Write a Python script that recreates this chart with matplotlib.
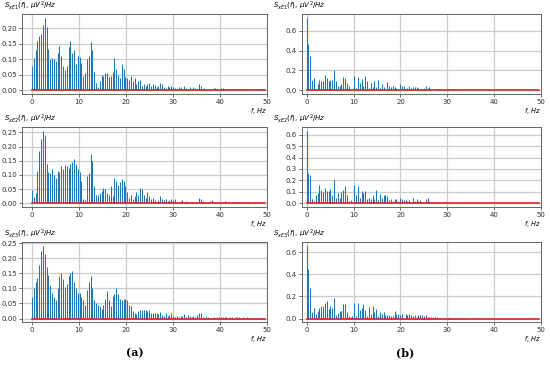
import numpy as np
import matplotlib
matplotlib.use("Agg")
import matplotlib.pyplot as plt

# frequency grid (fs = 100 Hz, N = 256)
freqs = np.arange(128) * 100 / 256

# (a) column
a1 = [0.080, 0.105, 0.130, 0.160, 0.175, 0.182, 0.210, 0.235, 0.205, 0.135, 0.100, 0.103, 0.100,
      0.095, 0.120, 0.143, 0.110, 0.080, 0.065, 0.080, 0.140, 0.158, 0.120, 0.130, 0.085, 0.110,
      0.108, 0.090, 0.045, 0.055, 0.100, 0.112, 0.155, 0.130, 0.060, 0.025, 0.010, 0.030, 0.050,
      0.048, 0.055, 0.057, 0.042, 0.045, 0.060, 0.103, 0.070, 0.050, 0.040, 0.085, 0.070, 0.042,
      0.040, 0.035, 0.045, 0.030, 0.040, 0.020, 0.030, 0.032, 0.015, 0.020, 0.015, 0.020, 0.025,
      0.015, 0.020, 0.018, 0.012, 0.015, 0.025, 0.020, 0.012, 0.008, 0.015, 0.010, 0.015, 0.012,
      0.008, 0.004, 0.012, 0.010, 0.005, 0.015, 0.008, 0.004, 0.010, 0.006, 0.012, 0.008, 0.004,
      0.020, 0.015, 0.005, 0.008, 0.005, 0.003, 0.006, 0.004, 0.008, 0.009, 0.004, 0.003, 0.008,
      0.007, 0.006, 0.005, 0.006, 0.004, 0.005, 0.003, 0.004, 0.003, 0.005, 0.002, 0.004, 0.003,
      0.004, 0.002, 0.003, 0.004, 0.002, 0.003, 0.003, 0.004, 0.002, 0.003, 0.003]
a2 = [0.048, 0.022, 0.038, 0.113, 0.185, 0.228, 0.256, 0.242, 0.140, 0.110, 0.105, 0.120, 0.100,
      0.090, 0.115, 0.110, 0.130, 0.120, 0.135, 0.130, 0.125, 0.140, 0.145, 0.155, 0.140, 0.120,
      0.110, 0.080, 0.015, 0.010, 0.095, 0.105, 0.175, 0.150, 0.060, 0.028, 0.028, 0.035, 0.045,
      0.055, 0.050, 0.035, 0.030, 0.060, 0.025, 0.090, 0.080, 0.065, 0.075, 0.085, 0.080, 0.060,
      0.040, 0.020, 0.030, 0.015, 0.025, 0.040, 0.030, 0.055, 0.050, 0.030, 0.020, 0.040, 0.025,
      0.015, 0.020, 0.012, 0.005, 0.010, 0.025, 0.015, 0.010, 0.015, 0.008, 0.012, 0.015, 0.010,
      0.015, 0.005, 0.003, 0.008, 0.012, 0.004, 0.008, 0.006, 0.004, 0.003, 0.005, 0.004, 0.003,
      0.018, 0.015, 0.008, 0.005, 0.003, 0.006, 0.008, 0.012, 0.004, 0.003, 0.004, 0.002, 0.005,
      0.003, 0.008, 0.006, 0.003, 0.002, 0.004, 0.003, 0.002, 0.003, 0.002, 0.003, 0.002, 0.002,
      0.002, 0.003, 0.002, 0.002, 0.003, 0.002, 0.002, 0.003, 0.002, 0.002, 0.002]
a3 = [0.070, 0.103, 0.120, 0.135, 0.178, 0.225, 0.242, 0.215, 0.170, 0.145, 0.110, 0.085, 0.070,
      0.060, 0.100, 0.140, 0.152, 0.130, 0.105, 0.115, 0.140, 0.150, 0.158, 0.120, 0.100, 0.085,
      0.085, 0.070, 0.060, 0.045, 0.095, 0.120, 0.140, 0.100, 0.060, 0.050, 0.045, 0.040, 0.032,
      0.045, 0.065, 0.090, 0.060, 0.040, 0.075, 0.080, 0.100, 0.080, 0.065, 0.060, 0.065, 0.065,
      0.060, 0.045, 0.040, 0.025, 0.020, 0.015, 0.025, 0.030, 0.030, 0.030, 0.030, 0.025, 0.030,
      0.018, 0.020, 0.020, 0.018, 0.015, 0.022, 0.012, 0.010, 0.020, 0.008, 0.012, 0.020, 0.010,
      0.005, 0.008, 0.006, 0.010, 0.008, 0.015, 0.005, 0.012, 0.008, 0.006, 0.010, 0.005, 0.012,
      0.018, 0.020, 0.005, 0.003, 0.008, 0.006, 0.003, 0.002, 0.004, 0.003, 0.004, 0.005, 0.004,
      0.006, 0.004, 0.005, 0.003, 0.004, 0.005, 0.003, 0.004, 0.005, 0.004, 0.003, 0.004, 0.003,
      0.004, 0.003, 0.002, 0.003, 0.002, 0.002, 0.003, 0.002, 0.002, 0.003, 0.002]

# (b) column
b1 = [0.730, 0.470, 0.350, 0.105, 0.120, 0.000, 0.060, 0.100, 0.095, 0.090, 0.150, 0.120, 0.095,
      0.100, 0.100, 0.205, 0.090, 0.045, 0.045, 0.060, 0.130, 0.125, 0.075, 0.040, 0.015, 0.000,
      0.140, 0.020, 0.135, 0.070, 0.115, 0.045, 0.140, 0.095, 0.025, 0.070, 0.035, 0.095, 0.030,
      0.100, 0.025, 0.060, 0.030, 0.000, 0.080, 0.045, 0.030, 0.040, 0.030, 0.025, 0.015, 0.065,
      0.045, 0.045, 0.015, 0.025, 0.040, 0.025, 0.035, 0.030, 0.030, 0.020, 0.010, 0.015, 0.020,
      0.040, 0.020, 0.030, 0.010, 0.008, 0.000, 0.010, 0.012, 0.010, 0.005, 0.008, 0.012, 0.010,
      0.008, 0.005, 0.010, 0.005, 0.008, 0.003, 0.002, 0.003, 0.002, 0.006, 0.005, 0.006, 0.003,
      0.002, 0.001, 0.002, 0.001, 0.001, 0.002, 0.001, 0.001, 0.000, 0.001, 0.000, 0.001, 0.000,
      0.000, 0.000, 0.000, 0.000, 0.000, 0.000, 0.000, 0.000, 0.000, 0.000, 0.000, 0.000, 0.000,
      0.000, 0.000, 0.000, 0.000, 0.000, 0.000, 0.000, 0.000, 0.000, 0.000, 0.000]
b2 = [0.635, 0.265, 0.250, 0.035, 0.020, 0.075, 0.090, 0.160, 0.120, 0.100, 0.135, 0.110, 0.110,
      0.125, 0.070, 0.205, 0.045, 0.090, 0.045, 0.100, 0.115, 0.150, 0.070, 0.020, 0.025, 0.015,
      0.160, 0.070, 0.150, 0.050, 0.105, 0.090, 0.110, 0.035, 0.045, 0.035, 0.075, 0.040, 0.120,
      0.030, 0.085, 0.050, 0.075, 0.075, 0.060, 0.025, 0.035, 0.020, 0.035, 0.035, 0.020, 0.050,
      0.035, 0.030, 0.030, 0.020, 0.030, 0.010, 0.045, 0.020, 0.035, 0.020, 0.025, 0.010, 0.005,
      0.035, 0.045, 0.020, 0.010, 0.005, 0.010, 0.005, 0.008, 0.005, 0.010, 0.015, 0.008, 0.005,
      0.012, 0.005, 0.003, 0.002, 0.004, 0.006, 0.003, 0.005, 0.004, 0.002, 0.001, 0.002, 0.001,
      0.001, 0.002, 0.001, 0.000, 0.001, 0.001, 0.000, 0.001, 0.000, 0.000, 0.001, 0.000, 0.000,
      0.000, 0.000, 0.000, 0.000, 0.000, 0.000, 0.000, 0.000, 0.000, 0.000, 0.000, 0.000, 0.000,
      0.000, 0.000, 0.000, 0.000, 0.000, 0.000, 0.000, 0.000, 0.000, 0.000, 0.000]
b3 = [0.660, 0.450, 0.280, 0.060, 0.100, 0.040, 0.070, 0.095, 0.115, 0.110, 0.145, 0.155, 0.090,
      0.115, 0.095, 0.185, 0.035, 0.050, 0.065, 0.065, 0.130, 0.130, 0.060, 0.025, 0.010, 0.020,
      0.140, 0.020, 0.145, 0.080, 0.095, 0.135, 0.080, 0.020, 0.105, 0.045, 0.110, 0.060, 0.090,
      0.025, 0.055, 0.040, 0.060, 0.030, 0.035, 0.035, 0.020, 0.020, 0.065, 0.045, 0.040, 0.035,
      0.040, 0.005, 0.040, 0.035, 0.040, 0.035, 0.025, 0.030, 0.010, 0.030, 0.030, 0.030, 0.020,
      0.035, 0.010, 0.010, 0.015, 0.010, 0.010, 0.012, 0.005, 0.005, 0.008, 0.003, 0.006, 0.005,
      0.003, 0.004, 0.003, 0.004, 0.002, 0.003, 0.002, 0.001, 0.002, 0.001, 0.001, 0.000, 0.001,
      0.000, 0.000, 0.000, 0.000, 0.000, 0.000, 0.000, 0.000, 0.000, 0.000, 0.000, 0.000, 0.000,
      0.000, 0.000, 0.000, 0.000, 0.000, 0.000, 0.000, 0.000, 0.000, 0.000, 0.000, 0.000, 0.000,
      0.000, 0.000, 0.000, 0.000, 0.000, 0.000, 0.000, 0.000, 0.000, 0.000, 0.000]

ylabels = [r'$S_{xE1}(f),\,\mu V^2/Hz$', r'$S_{xE2}(f),\,\mu V^2/Hz$', r'$S_{xE3}(f),\,\mu V^2/Hz$']
yticks_a = [[0, 0.05, 0.10, 0.15, 0.20], [0, 0.05, 0.10, 0.15, 0.20, 0.25], [0, 0.05, 0.10, 0.15, 0.20, 0.25]]
yticks_b = [[0, 0.2, 0.4, 0.6], [0, 0.1, 0.2, 0.3, 0.4, 0.5, 0.6], [0, 0.2, 0.4, 0.6]]


def draw_panel(ax, vals, label, yticks, fmt, xleft, lx):
    ml, sl, bl = ax.stem(freqs, vals, linefmt='C0-', basefmt='C3-')
    ml.set_visible(False)
    sl.set_linewidth(0.75)
    bl.set_linewidth(1.2)
    ax.set_xlim(xleft, 50)
    ax.set_xticks([0, 10, 20, 30, 40, 50])
    ax.set_yticks(yticks)
    ax.set_yticklabels([fmt % t for t in yticks])
    ax.grid(True, color='#cccccc', linewidth=0.9)
    ax.set_axisbelow(True)
    ax.tick_params(labelsize=5, length=2, width=0.5, pad=1.5, colors='#333333')
    for s in ax.spines.values():
        s.set_color('#666666')
        s.set_linewidth(0.7)
    ax.set_xlabel(r'$f$, $Hz$', loc='right', fontsize=4.8, labelpad=1)
    ax.text(lx, 1.03, label, transform=ax.transAxes, fontsize=5, ha='left', va='bottom')


fig = plt.figure(figsize=(5.5, 3.79), dpi=100)
bottoms = [0.752, 0.454, 0.150]
height = 0.211
for r in range(3):
    axl = fig.add_axes([0.040, bottoms[r], 0.445, height])
    draw_panel(axl, [a1, a2, a3][r], ylabels[r], yticks_a[r], '%.2f', -2.1, -0.075)
    axr = fig.add_axes([0.549, bottoms[r], 0.435, height])
    draw_panel(axr, [b1, b2, b3][r], ylabels[r], yticks_b[r], '%.1f', -1.0, -0.12)

fig.text(0.245, 0.07, '(a)', ha='center', va='center', fontsize=8,
         fontweight='bold', family='DejaVu Serif')
fig.text(0.737, 0.07, '(b)', ha='center', va='center', fontsize=8,
         fontweight='bold', family='DejaVu Serif')

fig.savefig('out.png', dpi=100)
